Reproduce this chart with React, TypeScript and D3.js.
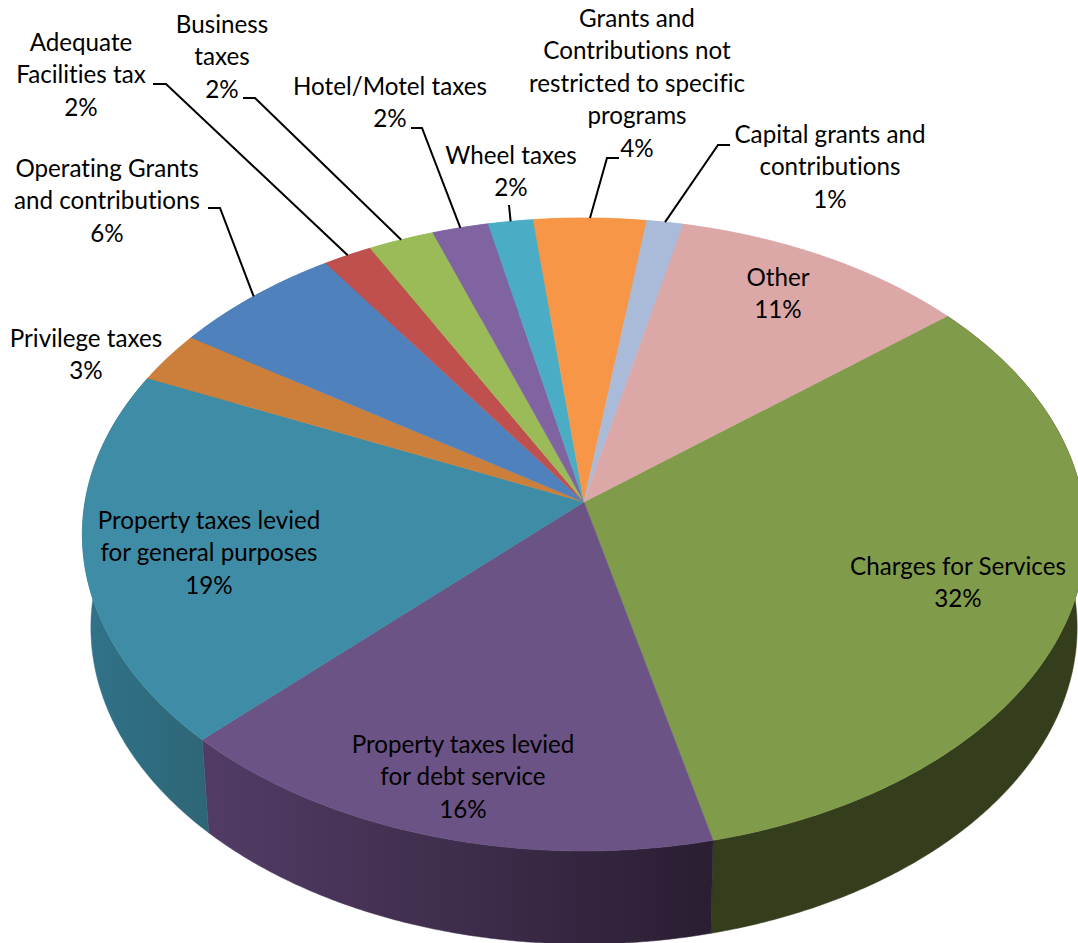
import * as d3 from 'd3';

const categories = [
  'Charges for Services',
  'Property taxes levied for debt service',
  'Property taxes levied for general purposes',
  'Privilege taxes',
  'Operating Grants and contributions',
  'Adequate Facilities tax',
  'Business taxes',
  'Hotel/Motel taxes',
  'Wheel taxes',
  'Grants and Contributions not restricted to specific programs',
  'Capital grants and contributions',
  'Other',
];
const shares = [32.15, 16.3, 19.2, 2.6, 6.15, 1.75, 2.35, 2.0, 1.6, 4.0, 1.3, 10.6];

const topColors = ['#809c4a', '#6b5385', '#3f8ca6', '#cc7f3b', '#4f81bd', '#c0504d', '#9bbb59', '#8064a2', '#4bacc6', '#f79646', '#aabbd9', '#dba8a7'];
const wallLeft = ['#343d1c', '#523c66', '#30738a', '#cc7f3b', '#4f81bd', '#c0504d', '#9bbb59', '#8064a2', '#4bacc6', '#f79646', '#aabbd9', '#dba8a7'];
const wallRight = ['#343d1c', '#2a1e32', '#2e6676', '#cc7f3b', '#4f81bd', '#c0504d', '#9bbb59', '#8064a2', '#4bacc6', '#f79646', '#aabbd9', '#dba8a7'];

// wrapped label text, same order as categories
const labelLines = [
  ['Charges for Services'],
  ['Property taxes levied', 'for debt service'],
  ['Property taxes levied', 'for general purposes'],
  ['Privilege taxes'],
  ['Operating Grants', 'and contributions'],
  ['Adequate', 'Facilities tax'],
  ['Business', 'taxes'],
  ['Hotel/Motel taxes'],
  ['Wheel taxes'],
  ['Grants and', 'Contributions not', 'restricted to specific', 'programs'],
  ['Capital grants and', 'contributions'],
  ['Other'],
];

// label layout: centre x, first baseline y, leader start points (empty = no leader)
const labelLayout: { x: number; y: number; leader: [number, number][] }[] = [
  { x: 958, y: 574.5, leader: [] },
  { x: 463, y: 752.5, leader: [] },
  { x: 209, y: 528.5, leader: [] },
  { x: 86, y: 346.5, leader: [] },
  { x: 107, y: 176.5, leader: [[208, 208], [220, 208]] },
  { x: 81, y: 50.5, leader: [[153, 84], [166, 84]] },
  { x: 222, y: 32.5, leader: [[243, 98], [255, 98]] },
  { x: 390, y: 94.5, leader: [[411, 128], [422, 128]] },
  { x: 511, y: 163.5, leader: [[509, 205]] },
  { x: 637, y: 26.5, leader: [[619, 158], [607, 158]] },
  { x: 830, y: 142.5, leader: [[730, 145], [718, 145]] },
  { x: 778, y: 285.5, leader: [] },
];

const WIDTH = 1078;
const HEIGHT = 943;
const LINE_HEIGHT = 32.5;
const DEG = Math.PI / 180;

// perspective projection of the unit disc onto the page
const cx = 584;
const persp = -0.1027;
const yScale = 261.6;
const yOrigin = 502;
const xScale = 499;
const wallDepth = 93;
const wallShrink = 0.983;

const project = (angle: number, r = 1): [number, number] => {
  const u = r * Math.sin(angle);
  const v = -r * Math.cos(angle);
  const w = 1 + persp * v;
  return [cx + (xScale * u) / w, (yScale * v + yOrigin) / w];
};

const projectBottom = (angle: number): [number, number] => {
  const [x, y] = project(angle);
  return [cx + (x - cx) * wallShrink, y + wallDepth];
};

const sampleArc = (a0: number, a1: number) => {
  const n = Math.max(2, Math.ceil((a1 - a0) / (0.5 * DEG)));
  return d3.range(n + 1).map((i) => a0 + ((a1 - a0) * i) / n);
};

const line = d3.line<[number, number]>();

const App = () => {
  const total = d3.sum(shares);
  const arcs = d3
    .pie<number>()
    .sort(null)
    .startAngle(50.8 * DEG)
    .endAngle(410.8 * DEG)(shares);

  return (
    <svg
      width={WIDTH}
      height={HEIGHT}
      viewBox={`0 0 ${WIDTH} ${HEIGHT}`}
      style={{ position: 'absolute', left: 0, top: 0, background: '#fff', fontVariantLigatures: 'none' }}
      fontFamily="Lato, sans-serif"
      fontSize={24.2}
    >
      <defs>
        {arcs.map((d, i) => (
          <linearGradient key={i} id={`wall-${i}`} x1="0" x2="1" y1="0" y2="0">
            <stop offset="0" stopColor={wallLeft[i]} />
            <stop offset="1" stopColor={wallRight[i]} />
          </linearGradient>
        ))}
      </defs>

      {/* outer walls */}
      {arcs.map((d, i) => {
        const angles = sampleArc(d.startAngle, d.endAngle);
        const pts = [...angles.map((a) => project(a)), ...angles.slice().reverse().map(projectBottom)];
        return <path key={i} d={line(pts) + 'Z'} fill={`url(#wall-${i})`} stroke={`url(#wall-${i})`} strokeWidth={0.5} />;
      })}

      {/* top faces */}
      {arcs.map((d, i) => {
        const pts = [project(0, 0), ...sampleArc(d.startAngle, d.endAngle).map((a) => project(a))];
        return <path key={i} d={line(pts) + 'Z'} fill={topColors[i]} stroke={topColors[i]} strokeWidth={0.5} />;
      })}

      {/* leader lines */}
      {arcs.map((d, i) => {
        const { leader } = labelLayout[i];
        if (!leader.length) return null;
        const end = project((d.startAngle + d.endAngle) / 2);
        return <path key={i} d={line([...leader, end]) ?? ''} fill="none" stroke="#000" strokeWidth={2} />;
      })}

      {/* labels */}
      {categories.map((name, i) => {
        const { x, y } = labelLayout[i];
        const lines = [...labelLines[i], `${Math.round((shares[i] / total) * 100)}%`];
        return (
          <text key={name} x={x} y={y} textAnchor="middle" fill="#000">
            {lines.map((t, j) => (
              <tspan key={j} x={x} y={y + j * LINE_HEIGHT}>
                {t}
              </tspan>
            ))}
          </text>
        );
      })}
    </svg>
  );
};

export default App;
